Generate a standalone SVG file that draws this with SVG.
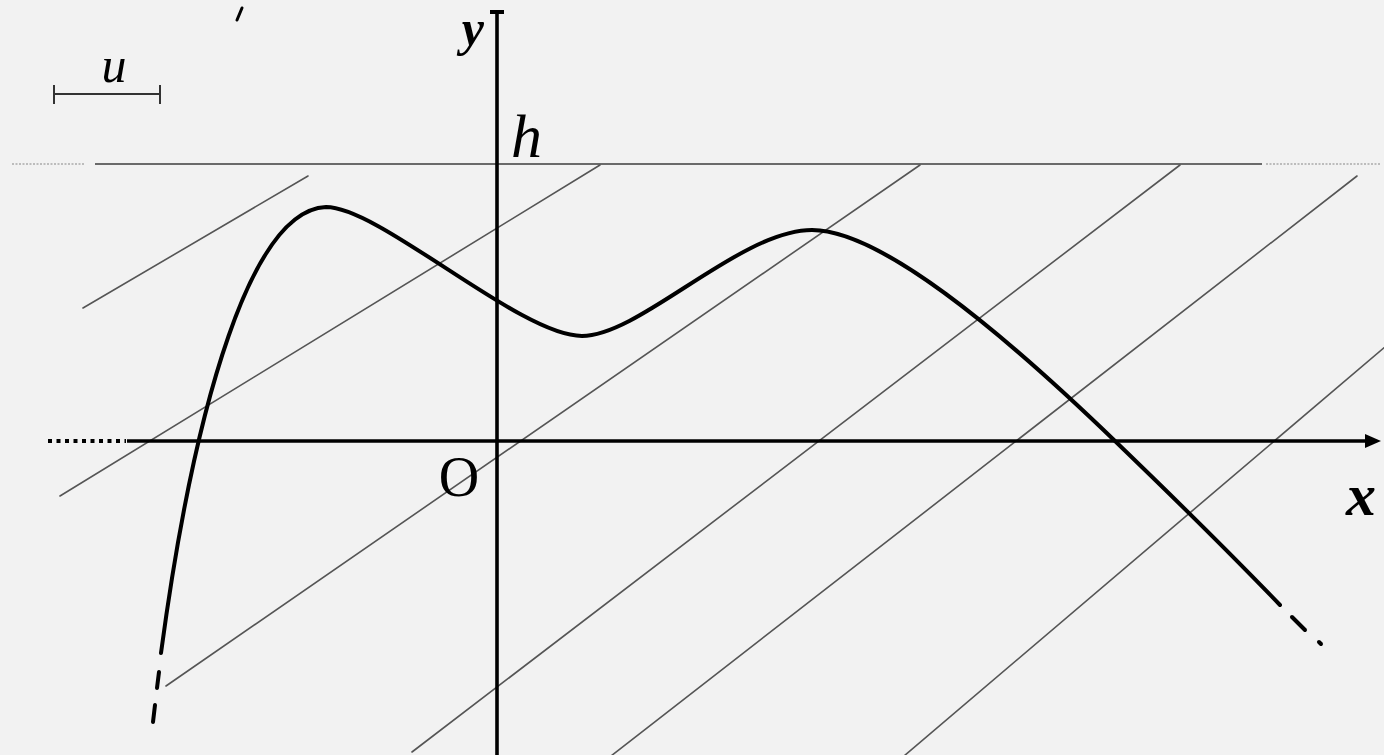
<svg xmlns="http://www.w3.org/2000/svg" width="1384" height="755" viewBox="0 0 1384 755">
<style>
.hatch{stroke:#555;stroke-width:1.6;fill:none;stroke-linecap:round}
.axis{stroke:#000;stroke-width:3.6;fill:none}
.curve{stroke:#000;stroke-width:4;fill:none;stroke-linecap:round;stroke-linejoin:round}
.lbl{font-family:"Liberation Serif","Times New Roman",serif;fill:#000}
.it{font-style:italic}
.bd{font-weight:bold}
</style>
<rect width="1384" height="755" fill="#f2f2f2"/>
<g id="level-line-h">
<line x1="95" y1="164" x2="1262" y2="164" stroke="#6a6a6a" stroke-width="2.2"/>
<line x1="12" y1="164" x2="85" y2="164" stroke="#aaa" stroke-width="1.5" stroke-dasharray="2 1.5"/>
<line x1="1266" y1="164" x2="1380" y2="164" stroke="#aaa" stroke-width="1.5" stroke-dasharray="2 1.5"/>
</g>
<g id="hatching">
<line class="hatch" x1="83" y1="308" x2="308" y2="176"/>
<line class="hatch" x1="60" y1="496" x2="600" y2="165"/>
<line class="hatch" x1="166" y1="686" x2="920" y2="165"/>
<line class="hatch" x1="412" y1="752" x2="1180" y2="165"/>
<line class="hatch" x1="611" y1="756" x2="1357" y2="176"/>
<line class="hatch" x1="904" y1="756" x2="1386" y2="346"/>
</g>
<g id="x-axis">
<line class="axis" x1="127" y1="441" x2="1368" y2="441"/>
<line x1="48" y1="441" x2="126" y2="441" stroke="#000" stroke-width="3.8" stroke-dasharray="4 4.5"/>
<polygon points="1381,441 1365,434 1365,448" fill="#000"/>
</g>
<g id="y-axis">
<line class="axis" x1="497" y1="12" x2="497" y2="756"/>
<rect x="490" y="10" width="14" height="4" fill="#000"/>
</g>
<g id="curve">
<path class="curve" d="M161,653 C195,400 252,210 326,207 C380,207 520,336 582,336 C640,336 740,230 812,230 C880,230 1000,330 1115,441 C1170,494 1230,553 1280,605"/>
<line class="curve" x1="159" y1="672" x2="157" y2="688"/>
<line class="curve" x1="155" y1="705" x2="153" y2="722"/>
<line class="curve" x1="1292" y1="617" x2="1305" y2="630"/>
<line class="curve" x1="1319" y1="642" x2="1321" y2="644"/>
</g>
<g id="unit-bar">
<line x1="54" y1="94" x2="160" y2="94" stroke="#333" stroke-width="2"/>
<line x1="54" y1="85" x2="54" y2="104" stroke="#333" stroke-width="2"/>
<line x1="160" y1="85" x2="160" y2="104" stroke="#333" stroke-width="2"/>
<text class="lbl it" x="114" y="82" font-size="50" text-anchor="middle">u</text>
</g>
<g id="labels">
<path d="M242,8 L237,20" stroke="#000" stroke-width="3" stroke-linecap="round"/>
<text class="lbl it bd" x="484" y="45" font-size="50" text-anchor="end">y</text>
<text class="lbl it" x="511" y="157" font-size="62">h</text>
<text class="lbl" x="459" y="496" font-size="56" text-anchor="middle">O</text>
<text class="lbl it bd" x="1346" y="515" font-size="60">x</text>
</g>
</svg>
